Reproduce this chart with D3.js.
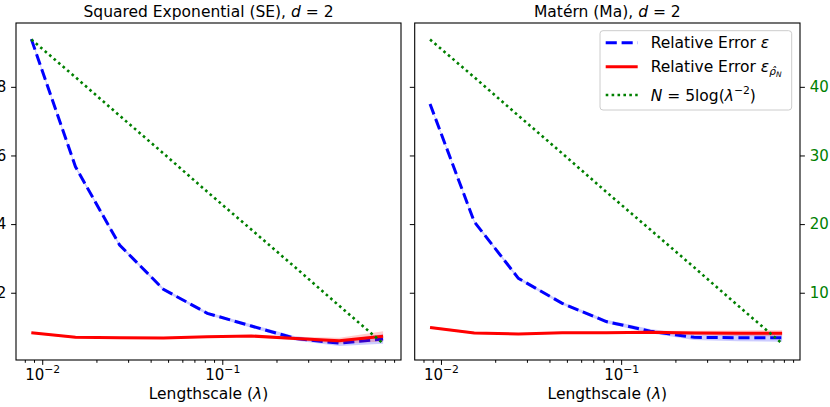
<!DOCTYPE html>
<html>
<head>
<meta charset="utf-8">
<script src="https://cdn.jsdelivr.net/npm/d3@7"></script>
<style>
  body { margin: 0; background: #fff; }
  text { font-family: "DejaVu Sans", sans-serif; }
</style>
</head>
<body>
<div id="chart"></div>
<script>
// data
const lengthscales = [0.0087, 0.0153, 0.0269, 0.0471, 0.0826, 0.145, 0.254, 0.446, 0.782];

const seErr      = [0.939, 0.567, 0.339, 0.210, 0.140, 0.103, 0.067, 0.053, 0.065];
const seErrStd   = [0.004, 0.004, 0.004, 0.004, 0.004, 0.005, 0.006, 0.008, 0.014];
const seRho      = [0.0835, 0.070, 0.069, 0.068, 0.072, 0.074, 0.067, 0.060, 0.073];
const seRhoStd   = [0.003, 0.003, 0.003, 0.003, 0.003, 0.003, 0.005, 0.009, 0.015];

const maErr      = [0.750, 0.407, 0.242, 0.169, 0.116, 0.088, 0.070, 0.069, 0.069];
const maErrStd   = [0.004, 0.004, 0.004, 0.004, 0.005, 0.006, 0.008, 0.010, 0.012];
const maRho      = [0.099, 0.083, 0.080, 0.0835, 0.0835, 0.085, 0.083, 0.082, 0.082];
const maRhoStd   = [0.003, 0.003, 0.003, 0.003, 0.003, 0.004, 0.006, 0.008, 0.009];

const nSamples   = [46.9, 41.4, 35.8, 30.3, 24.7, 19.2, 13.7, 8.1, 2.6];

const errTicks = [0.2, 0.4, 0.6, 0.8];
const nTicks = [10, 20, 30, 40];
const xMajor = [0.01, 0.1];

const W = 830, H = 407;
const plotTop = 23, plotBottom = 360;
const fontTick = 15, fontLabel = 15.5;
const dotW = 2.6, dotDash = "2.6,3.3";

const svg = d3.select("#chart").append("svg")
    .attr("width", W)
    .attr("height", H);

const y = d3.scaleLinear().domain([0.004, 0.986]).range([plotBottom, plotTop]);
const yN = d3.scaleLinear().domain([0.2, 49.3]).range([plotBottom, plotTop]);

function supText(sel, base, sup) {
    sel.text(null);
    sel.append("tspan").text(base);
    sel.append("tspan").attr("dy", -6.5).attr("font-size", 10.8).text(sup);
}

function drawPanel(x0, x1, title, err, errStd, rho, rhoStd, opts) {
    const x = d3.scaleLog().domain([0.00715, 0.983]).range([x0, x1]);
    const g = svg.append("g");

    const rows = lengthscales.map((l, i) => ({l, e: err[i], es: errStd[i], r: rho[i], rs: rhoStd[i], n: nSamples[i]}));

    // bands + lines
    g.append("path").datum(rows)
        .attr("fill", "blue").attr("fill-opacity", 0.2)
        .attr("d", d3.area().x(d => x(d.l)).y0(d => y(d.e - d.es)).y1(d => y(d.e + d.es)));
    g.append("path").datum(rows)
        .attr("fill", "none").attr("stroke", "blue").attr("stroke-width", 3)
        .attr("stroke-dasharray", "11.1,4.8")
        .attr("d", d3.line().x(d => x(d.l)).y(d => y(d.e)));
    g.append("path").datum(rows)
        .attr("fill", "red").attr("fill-opacity", 0.2)
        .attr("d", d3.area().x(d => x(d.l)).y0(d => y(d.r - d.rs)).y1(d => y(d.r + d.rs)));
    g.append("path").datum(rows)
        .attr("fill", "none").attr("stroke", "red").attr("stroke-width", 3)
        .attr("d", d3.line().x(d => x(d.l)).y(d => y(d.r)));
    g.append("path").datum(rows)
        .attr("fill", "none").attr("stroke", "green").attr("stroke-width", dotW)
        .attr("stroke-dasharray", dotDash)
        .attr("d", d3.line().x(d => x(d.l)).y(d => yN(d.n)));

    // x axis: major + minor
    const minor = x.ticks().filter(t => !xMajor.some(m => Math.abs(m - t) < 1e-9));
    g.append("g").attr("transform", `translate(0,${plotBottom})`)
        .call(d3.axisBottom(x).tickValues(minor).tickSize(2.8).tickFormat(""))
        .call(a => a.select(".domain").remove());
    const xa = g.append("g").attr("transform", `translate(0,${plotBottom})`)
        .call(d3.axisBottom(x).tickValues(xMajor).tickSize(4.9).tickPadding(4))
        .call(a => a.select(".domain").remove());
    xa.selectAll("text").attr("font-size", fontTick).attr("fill", "#000")
        .each(function(d) { supText(d3.select(this), "10", "\u2212" + Math.round(-Math.log10(d))); });
    xa.selectAll("line").attr("stroke", "#000");

    // left y axis (labels partly off the page, as in the original)
    const ya = g.append("g").attr("transform", `translate(${x0},0)`)
        .call(d3.axisLeft(y).tickValues(errTicks).tickSize(4.9).tickPadding(4.9)
            .tickFormat(opts.yLabels ? d3.format(".1f") : ""))
        .call(a => a.select(".domain").remove());
    ya.selectAll("text").attr("font-size", fontTick).attr("fill", "#000");

    if (opts.rightAxis) {
        const ra = g.append("g").attr("transform", `translate(${x1},0)`)
            .call(d3.axisRight(yN).tickValues(nTicks).tickSize(4.9).tickPadding(4.9).tickFormat(d3.format("d")))
            .call(a => a.select(".domain").remove());
        ra.selectAll("text").attr("font-size", fontTick).attr("fill", "green");
    }

    // frame
    g.append("rect").attr("x", x0).attr("y", plotTop)
        .attr("width", x1 - x0).attr("height", plotBottom - plotTop)
        .attr("fill", "none").attr("stroke", "#000").attr("stroke-width", 1.1);

    // title
    const t = g.append("text").attr("x", (x0 + x1) / 2).attr("y", 17)
        .attr("text-anchor", "middle").attr("font-size", fontLabel);
    t.append("tspan").text(title + ", ");
    t.append("tspan").attr("font-style", "italic").text("d");
    t.append("tspan").text(" = 2");

    // x label
    const xl = g.append("text").attr("x", (x0 + x1) / 2).attr("y", 399)
        .attr("text-anchor", "middle").attr("font-size", fontLabel);
    xl.append("tspan").text("Lengthscale (");
    xl.append("tspan").attr("font-style", "italic").text("\u03bb");
    xl.append("tspan").text(")");
}

drawPanel(16, 401, "Squared Exponential (SE)", seErr, seErrStd, seRho, seRhoStd, {yLabels: true, rightAxis: false});
drawPanel(414.7, 800, "Mat\u00e9rn (Ma)", maErr, maErrStd, maRho, maRhoStd, {yLabels: false, rightAxis: true});

// legend
const leg = svg.append("g");
leg.append("rect").attr("x", 600).attr("y", 30.7).attr("width", 191.7).attr("height", 79.3)
    .attr("rx", 3).attr("fill", "#fff").attr("fill-opacity", 0.8).attr("stroke", "#ccc");
const items = [
    {color: "blue", w: 3, dash: "11.1,4.8", y: 42.7},
    {color: "red", w: 3, dash: null, y: 66.7},
    {color: "green", w: dotW, dash: dotDash, y: 95}
];
items.forEach(it => {
    leg.append("line").attr("x1", 605.7).attr("x2", 637.7).attr("y1", it.y).attr("y2", it.y)
        .attr("stroke", it.color).attr("stroke-width", it.w)
        .attr("stroke-dasharray", it.dash);
});
const l1 = leg.append("text").attr("x", 650.7).attr("y", 48).attr("font-size", fontLabel);
l1.append("tspan").text("Relative Error ");
l1.append("tspan").attr("font-style", "italic").text("\u03b5");
const l2 = leg.append("text").attr("x", 650.7).attr("y", 72).attr("font-size", fontLabel);
l2.append("tspan").text("Relative Error ");
l2.append("tspan").attr("font-style", "italic").text("\u03b5");
l2.append("tspan").attr("font-style", "italic").attr("font-size", 10.5).attr("dy", 3).text("\u03c1\u0302");
l2.append("tspan").attr("font-style", "italic").attr("font-size", 7.5).attr("dy", 2).text("N");
const l3 = leg.append("text").attr("x", 650.7).attr("y", 100.5).attr("font-size", fontLabel);
l3.append("tspan").attr("font-style", "italic").text("N");
l3.append("tspan").text(" = 5log(");
l3.append("tspan").attr("font-style", "italic").text("\u03bb");
l3.append("tspan").attr("font-size", 10.8).attr("dy", -6.5).text("\u22122");
l3.append("tspan").attr("dy", 6.5).text(")");
</script>
</body>
</html>
